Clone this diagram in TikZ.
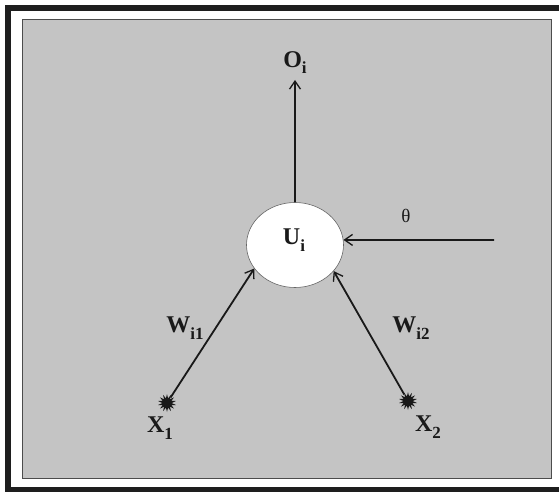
\documentclass[tikz,border=0pt]{standalone}
\usepackage{fontspec}
\setmainfont{Liberation Serif}
\usepackage{tikz}
\usetikzlibrary{shapes.geometric,arrows.meta,positioning}
\definecolor{panelgray}{RGB}{196,196,196}
\definecolor{framedark}{RGB}{30,30,30}
\definecolor{inkdark}{RGB}{25,25,25}
\newcommand{\lowidx}[1]{\raisebox{-0.28em}{\fontsize{17}{17}\selectfont #1}}

\begin{document}
\begin{tikzpicture}[
    x=1pt, y=-1pt,
    unit/.style={ellipse, draw=black!60, line width=0.6pt, fill=white, minimum width=97pt, minimum height=85pt, inner sep=0pt},
    spark/.style={star, star points=14, star point ratio=1.9, fill=inkdark, minimum size=18pt, inner sep=0pt},
    link/.style={-{Straight Barb[length=8pt,width=11pt,line width=1.3pt]}, line width=1.8pt, inkdark},
    lbl/.style={font=\fontsize{24}{26}\selectfont\bfseries, text=inkdark, inner sep=0pt}
]
\useasboundingbox (0,0) rectangle (559,492);

% Frame and panel
\draw[framedark, line width=6pt] (8,8) rectangle (565,490);
\draw[black!70, line width=1pt, fill=panelgray] (22,20) rectangle (551,478);

% Unit
\node[unit] (u) at (295,245) {};
\node[lbl] (ulbl) at (294,240) {U\lowidx{i}};

% Output
\coordinate (otip) at (295,80);
\draw[link] (u.north) -- (otip);
\node[lbl, above=6pt of otip] (olbl) {O\lowidx{i}};

% Threshold
\coordinate (thetain) at (494,240);
\draw[link] (thetain) -- (u.6);
\node[font=\fontsize{19}{20}\selectfont, text=inkdark, inner sep=0pt] (theta) at (406,216) {θ};

% Inputs
\node[spark] (x1) at (167,403) {};
\node[spark] (x2) at (408,401) {};
\node[lbl] (x1lbl) at (160,428) {X\lowidx{1}};
\node[lbl] (x2lbl) at (428,427) {X\lowidx{2}};

% Weighted links
\draw[link] (x1) -- (u.210);
\draw[link] (x2) -- (u.326);
\node[lbl] (w1) at (185,328) {W\lowidx{i1}};
\node[lbl] (w2) at (411,328) {W\lowidx{i2}};

\end{tikzpicture}
\end{document}
